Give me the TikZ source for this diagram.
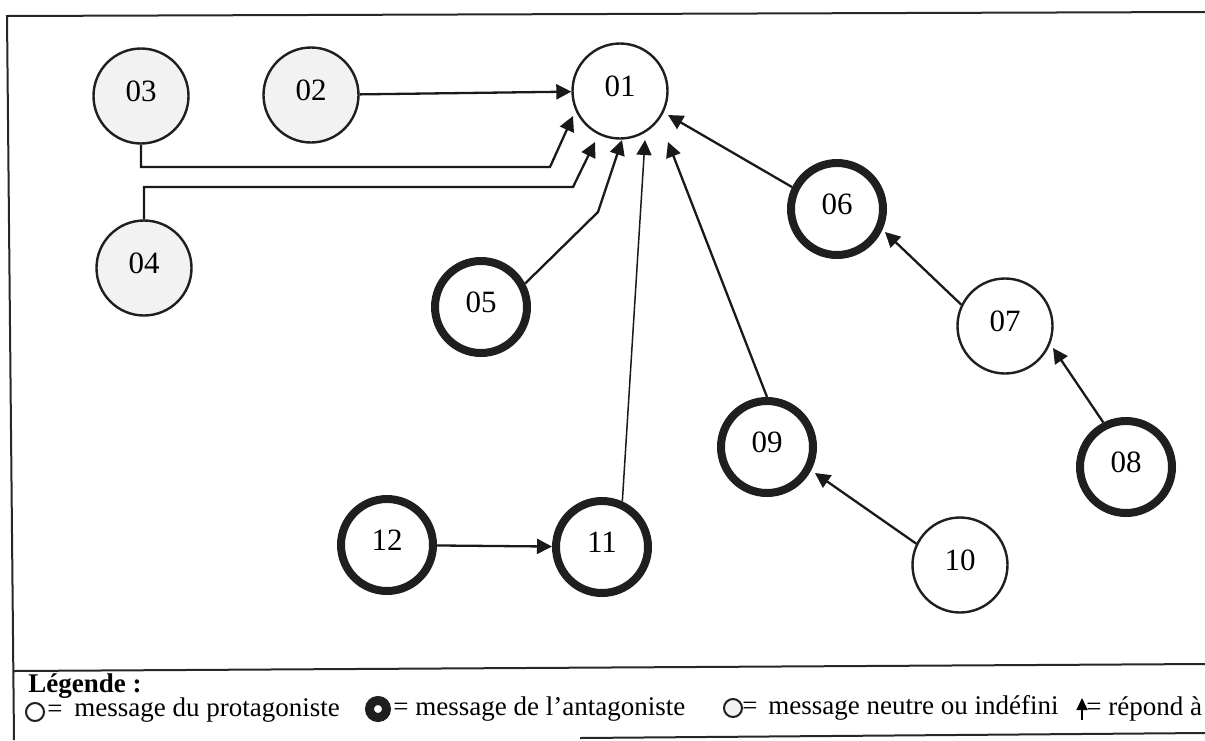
\documentclass[tikz,border=0pt]{standalone}
\usepackage{fontspec}
\setmainfont{Liberation Serif}
\usetikzlibrary{arrows.meta,calc}
\begin{document}
\begin{tikzpicture}[x=0.5pt,y=-0.5pt,
  msg/.style={circle,draw=black!88,minimum size=47.5pt,inner sep=0pt,
    text height=10.5pt,text depth=5pt,font=\fontsize{15.5}{18}\selectfont},
  proto/.style={msg,line width=1.2pt},
  anta/.style={msg,line width=4pt,minimum size=46pt},
  neutre/.style={msg,line width=1.2pt,fill=gray!10},
  rep/.style={line width=1.15pt,draw=black!90,-{Triangle[length=7.5pt,width=7.5pt]}},
  frameline/.style={line width=1pt,draw=black!85},
  leg/.style={font=\fontsize{13.5}{16}\selectfont,inner sep=0pt,anchor=west}
]
\useasboundingbox (0,0) rectangle (1205,740);

% outer frame and legend separator
\draw[frameline] (1205,12) -- (7,16) -- (14,740);
\draw[frameline] (14,671) -- (1205,664);
\draw[frameline] (580,738) -- (1205,733);

% messages
\node[neutre] (n03) at (141,96)  {03};
\node[neutre] (n02) at (311,95)  {02};
\node[proto]  (n01) at (620,91)  {01};
\node[neutre] (n04) at (144,268) {04};
\node[anta]   (n05) at (481,307) {05};
\node[anta]   (n06) at (837,209) {06};
\node[proto]  (n07) at (1005,326) {07};
\node[anta]   (n08) at (1126,467) {08};
\node[anta]   (n09) at (767,447) {09};
\node[proto]  (n10) at (960,565) {10};
\node[anta]   (n11) at (602,547) {11};
\node[anta]   (n12) at (387,545) {12};

% replies
\draw[rep] (n02) -- (n01);
\draw[rep] (n03.south) |- ($(n01)+(-70,76)$) -- ($(n01)+(-47,25)$);
\draw[rep] (n04.north) |- ($(n01)+(-47,96)$) -- ($(n01)+(-25,51)$);
\draw[rep] (n05.28) -- ($(n01)+(-22,121)$) -- ($(n01)+(2,49)$);
\draw[rep,line width=0.75pt] (n11.66) -- ($(n01)+(25,49)$);
\draw[rep] (n09.north) -- ($(n01)+(48,51)$);
\draw[rep] (n06.154) -- ($(n01)+(48,24)$);
\draw[rep] (n07.154) -- ($(n06)+(48,23)$);
\draw[rep] (n08.117) -- ($(n07)+(48,22)$);
\draw[rep] (n10.154) -- ($(n09)+(48,26)$);
\draw[rep] (n12) -- (n11);

% legend
\node[leg,font=\fontsize{13.5}{16}\selectfont\bfseries] (lt) at (28,686) {Légende :};
\node[circle,draw=black!88,line width=1pt,minimum size=9pt,inner sep=0pt] (lp) at (35,712) {};
\node[leg] (lpe) at (47,711) {=};
\node[leg] (lpt) at (74,710) {message du protagoniste};
\node[circle,draw=black!88,line width=4.5pt,minimum size=8.5pt,inner sep=0pt] (la) at (378,709) {};
\node[leg] (lat) at (393,709) {= message de l’antagoniste};
\node[circle,draw=black!88,fill=gray!10,line width=1pt,minimum size=9pt,inner sep=0pt] (ln) at (733,708) {};
\node[leg] (lne) at (742,708) {=};
\node[leg] (lnt) at (768,708) {message neutre ou indéfini};
\coordinate (lr0) at (1082,720);
\coordinate (lr1) at (1082,698);
\draw[line width=0.7pt,-{Triangle[length=6pt,width=5.5pt]}] (lr0) -- (lr1);
\node[leg] (lrt) at (1086,709) {= répond à};
\end{tikzpicture}
\end{document}
